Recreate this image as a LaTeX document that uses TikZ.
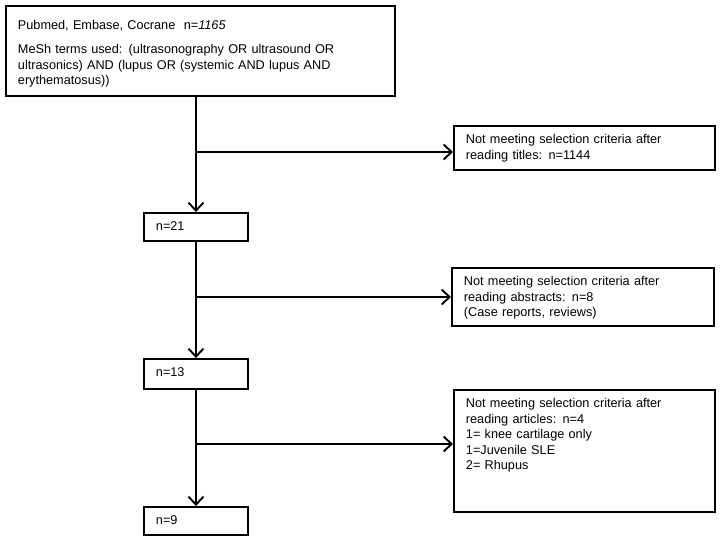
\documentclass[tikz,border=0pt]{standalone}
\usepackage{fontspec}
\setmainfont{Liberation Sans}
\usetikzlibrary{arrows.meta}
\begin{document}
\begin{tikzpicture}[x=1pt,y=-1pt,
  every node/.style={font=\fontsize{12.7}{15.5}\selectfont},
  flowbox/.style={draw,line width=1.9pt,anchor=north west,align=left,inner xsep=12pt,inner ysep=9pt,text height=9pt},
  countbox/.style={flowbox,text width=80pt,text depth=1pt},
  dropbox/.style={flowbox,text width=237pt},
  flow/.style={line width=1.9pt,-{Straight Barb[length=8pt,width=15pt]}}]
	\useasboundingbox (0,0) rectangle (720,540);
	\node[flowbox,text width=365pt,text height=15pt,text depth=57pt] (search) at (5,5)
		{Pubmed, Embase, Cocrane \ n=\textit{1165}\\[8.5pt]
		MeSh terms used: (ultrasonography OR ultrasound OR\\
		ultrasonics) AND (lupus OR (systemic AND lupus AND\\
		erythematosus))};
	\node[dropbox,text depth=17pt] (titles) at (453,125)
		{Not meeting selection criteria after\\reading titles: n=1144};
	\node[countbox] (n21) at (143,212) {n=21};
	\node[dropbox,text width=238pt,text depth=31pt] (abstracts) at (451,267)
		{Not meeting selection criteria after\\reading abstracts: n=8\\(Case reports, reviews)};
	\node[countbox,text depth=3pt] (n13) at (143,358) {n=13};
	\node[dropbox,text depth=95pt] (articles) at (453,389)
		{Not meeting selection criteria after\\reading articles: n=4\\1= knee cartilage only\\1=Juvenile SLE\\2= Rhupus};
	\node[countbox] (n9) at (143,506) {n=9};
	\draw[flow] (n21.north |- search.south) -- (n21.north);
	\draw[flow] (n21.south) -- (n13.north);
	\draw[flow] (n13.south) -- (n9.north);
	\coordinate (cut1) at (n21.north |- 0,152);
	\coordinate (cut2) at (n21.north |- 0,297);
	\coordinate (cut3) at (n21.north |- 0,444);
	\draw[flow] (cut1) -- (cut1 -| titles.west);
	\draw[flow] (cut2) -- (cut2 -| abstracts.west);
	\draw[flow] (cut3) -- (cut3 -| articles.west);
\end{tikzpicture}
\end{document}
